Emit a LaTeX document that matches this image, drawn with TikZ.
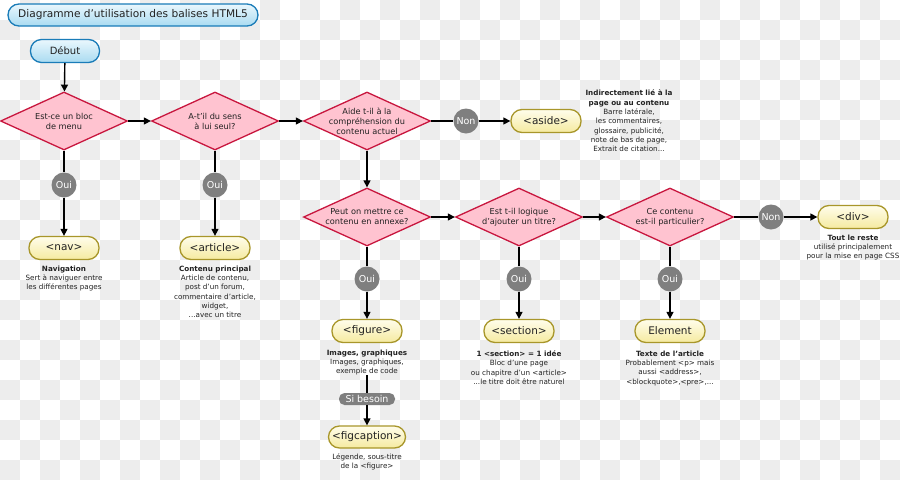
\documentclass[tikz,border=0pt]{standalone}
\usepackage{fontspec}
\setmainfont{DejaVu Sans}
\usetikzlibrary{shapes.geometric,arrows.meta}
\definecolor{diafill}{HTML}{FFC3D0}
\definecolor{diadraw}{HTML}{C8163E}
\definecolor{boxdraw}{HTML}{A8962A}
\definecolor{boxtop}{HTML}{FFFDEB}
\definecolor{boxbot}{HTML}{F5EAA0}
\definecolor{bluedraw}{HTML}{1A7CB8}
\definecolor{bluetop}{HTML}{EAF7FD}
\definecolor{bluebot}{HTML}{A9DBF1}
\definecolor{tagfill}{HTML}{7F7F7F}
\definecolor{checker}{HTML}{EDEDED}
\definecolor{txt}{HTML}{222222}
\tikzset{
  titlebox/.style={rectangle, rounded corners=11pt, draw=bluedraw, line width=1.3pt,
    top color=bluetop, bottom color=bluebot, minimum height=22pt, inner sep=0pt,
    font=\fontsize{10.6}{12}\selectfont, text=txt},
  dia/.style={diamond, draw=diadraw, fill=diafill, line width=1.3pt, inner sep=0pt,
    minimum width=127pt, minimum height=58pt},
  diatext/.style={align=center, font=\fontsize{8.2}{10}\selectfont, text=txt, inner sep=0pt},
  tagbox/.style={rectangle, rounded corners=11pt, draw=boxdraw, line width=1.3pt,
    top color=boxtop, bottom color=boxbot, minimum width=70pt, minimum height=23pt,
    inner sep=0pt, font=\fontsize{10.5}{12}\selectfont, text=txt},
  answer/.style={circle, fill=tagfill, minimum size=25pt, inner sep=0pt, text=white,
    font=\fontsize{9.5}{11}\selectfont},
  pill/.style={rectangle, rounded corners=5.5pt, fill=tagfill, minimum width=56pt,
    minimum height=12pt, inner sep=0pt, text=white, font=\fontsize{9.5}{11}\selectfont},
  desc/.style={align=center, anchor=north, inner sep=0pt,
    font=\fontsize{7.2}{9.3}\selectfont, text=txt},
  conn/.style={line width=1.4pt, black},
  arr/.style={conn, -{Triangle[length=7pt,width=7pt]}}
}
\begin{document}
\begin{tikzpicture}[x=1pt,y=-1pt]
\useasboundingbox (0,0) rectangle (900,480);
\fill[white] (0,0) rectangle (900,480);
\foreach \j in {0,...,23}{
  \pgfmathtruncatemacro\xs{20*mod(\j+1,2)}
  \pgfmathtruncatemacro\xt{\xs+40}
  \foreach \x in {\xs,\xt,...,880}{ \fill[checker] (\x,\j*20) rectangle ++(20,20); }
}
% title and start
\node[titlebox, minimum width=250pt] (title) at (133,15) {Diagramme d'utilisation des balises HTML5};
\node[titlebox, minimum width=69pt, minimum height=23pt, font=\fontsize{10}{12}\selectfont] (start) at (65,51) {Début};
% decisions
\node[dia, label={[diatext]center:Est-ce un bloc\\de menu}] (d1) at (64,121) {};
\node[dia, label={[diatext]center:A-t'il du sens\\à lui seul?}] (d2) at (215,121) {};
\node[dia, label={[diatext]center:Aide t-il à la\\compréhension du\\contenu actuel}] (d3) at (367,121) {};
\node[dia, label={[diatext]center:Peut on mettre ce\\contenu en annexe?}] (d4) at (367,217) {};
\node[dia, label={[diatext]center:Est t-il logique\\d'ajouter un titre?}] (d5) at (519,217) {};
\node[dia, label={[diatext]center:Ce contenu\\est-il particulier?}] (d6) at (670,217) {};
% answers
\node[answer] (o1) at (64,185) {Oui};
\node[answer] (o2) at (215,185) {Oui};
\node[answer] (n3) at (466,121) {Non};
\node[answer] (o4) at (367,279) {Oui};
\node[answer] (o5) at (519,279) {Oui};
\node[answer] (o6) at (670,279) {Oui};
\node[answer] (n6) at (771,217) {Non};
% tags
\node[tagbox] (aside) at (546,121) {<aside>};
\node[tagbox] (nav) at (64,248) {<nav>};
\node[tagbox] (article) at (215,248) {<article>};
\node[tagbox] (div) at (853,217) {<div>};
\node[tagbox] (figure) at (367,331) {<figure>};
\node[tagbox] (section) at (519,331) {<section>};
\node[tagbox] (element) at (670,331) {Element};
\node[tagbox, minimum width=77pt, minimum height=22pt] (figcaption) at (367,437) {<figcaption>};
\node[pill] (sib) at (367,399) {Si besoin};
% descriptions
\node[desc] (asidedesc) at (629,90) {\textbf{Indirectement lié à la}\\\textbf{page ou au contenu}\\Barre latérale,\\les commentaires,\\glossaire, publicité,\\note de bas de page,\\Extrait de citation...};
\node[desc] (navdesc) at (64,265.5) {\textbf{Navigation}\\Sert à naviguer entre\\les différentes pages};
\node[desc] (articledesc) at (215,265.5) {\textbf{Contenu principal}\\Article de contenu,\\post d'un forum,\\commentaire d'article,\\widget,\\...avec un titre};
\node[desc] (divdesc) at (853,234.5) {\textbf{Tout le reste}\\utilisé principalement\\pour la mise en page CSS};
\node[desc] (figdesc) at (367,349.5) {\textbf{Images, graphiques}\\Images, graphiques,\\exemple de code};
\node[desc] (sectiondesc) at (519,350.5) {\textbf{1 <section> = 1 idée}\\Bloc d'une page\\ou chapitre d'un <article>\\...le titre doit être naturel};
\node[desc] (elemdesc) at (670,350.5) {\textbf{Texte de l'article}\\Probablement <p> mais\\aussi <address>,\\<blockquote>,<pre>,...};
\node[desc] (figcapdesc) at (367,453.5) {Légende, sous-titre\\de la <figure>};
% connectors
\draw[arr] (start) -- (d1);
\draw[arr] (d1) -- (d2);
\draw[arr] (d2) -- (d3);
\draw[conn] (d3) -- (n3);
\draw[arr] (n3) -- (aside);
\draw[arr] (d3) -- (d4);
\draw[arr] (d4) -- (d5);
\draw[arr] (d5) -- (d6);
\draw[conn] (d6) -- (n6);
\draw[arr] (n6) -- (div);
\draw[conn] (d1) -- (o1);
\draw[arr] (o1) -- (nav);
\draw[conn] (d2) -- (o2);
\draw[arr] (o2) -- (article);
\draw[conn] (d4) -- (o4);
\draw[arr] (o4) -- (figure);
\draw[conn] (d5) -- (o5);
\draw[arr] (o5) -- (section);
\draw[conn] (d6) -- (o6);
\draw[arr] (o6) -- (element);
\draw[conn] (figdesc) -- (sib);
\draw[arr] (sib) -- (figcaption);
\end{tikzpicture}
\end{document}
